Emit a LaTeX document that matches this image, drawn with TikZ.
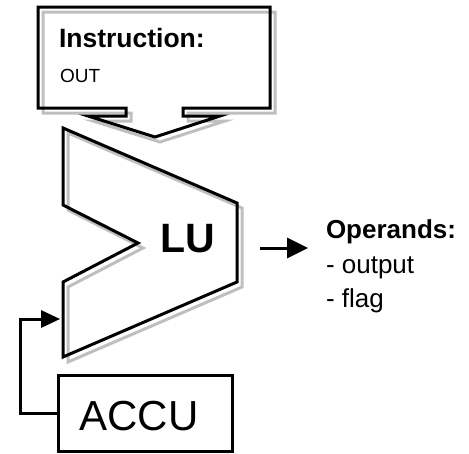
\documentclass[tikz,border=0pt]{standalone}
\usepackage{fontspec}
\setmainfont{Liberation Sans}
\usetikzlibrary{arrows.meta}
\tikzset{
  mainline/.style={draw=black, line width=3pt, line join=miter},
  shadowline/.style={draw=black!25, line width=3pt, line join=miter, shift={(5,5)}},
  bigtip/.style={-{Triangle[length=21pt,width=20pt]}},
  fbtip/.style={-{Triangle[length=19pt,width=17pt]}},
  txt/.style={inner sep=0pt, outer sep=0pt},
}
\newcommand\shadowpath[1]{\path[shadowline] #1; \path[mainline] #1;}
\begin{document}
\begin{tikzpicture}[x=1pt,y=-1pt]
\useasboundingbox (0,0) rectangle (469,453);
% Instruction box with funnel
\shadowpath{(126,116) -- (126,108) -- (38,108) -- (38,7) -- (270,7) -- (270,108) -- (183,108) -- (183,116) -- (220,116) -- (155,137) -- (88,116) -- cycle}
% LU shape
\shadowpath{(63,128) -- (237,203) -- (237,282) -- (63,357) -- (63,282) -- (138,243) -- (63,205) -- cycle}
% ACCU box
\node[txt, minimum width=174pt, minimum height=76pt] (accu) at (145,413) {};
\path[shadowline] (accu.south west) rectangle (accu.north east);
\path[mainline] (accu.south west) rectangle (accu.north east);
% texts
\node[txt, anchor=base west, font=\fontsize{26.5}{30}\selectfont\bfseries] (instr) at (59,47) {Instruction:};
\node[txt, anchor=base west, font=\fontsize{19}{22}\selectfont] (op) at (60,82) {OUT};
\node[txt, anchor=base, font=\fontsize{41}{48}\selectfont\bfseries] (lu) at (187.5,252) {LU};
\node[txt, anchor=base, font=\fontsize{42}{50}\selectfont] (accutext) at (139,430) {ACCU};
\node[txt, anchor=base west, font=\fontsize{26}{30}\selectfont\bfseries] (operands) at (326,238) {Operands:};
\node[txt, anchor=base west, font=\fontsize{26}{30}\selectfont] (out) at (326,273) {- output};
\node[txt, anchor=base west, font=\fontsize{26}{30}\selectfont] (flag) at (326,307) {- flag};
% output arrow
\coordinate (arrs) at (260,248);
\coordinate (arre) at (308,248);
\draw[shadowline, bigtip] (arrs) -- (arre);
\draw[mainline, bigtip] (arrs) -- (arre);
% feedback arrow
\coordinate (fbcorner) at (20,319);
\coordinate (fbend) at (60,319);
\draw[shadowline, fbtip] (accu.west) -| (fbcorner) -- (fbend);
\draw[mainline, fbtip] (accu.west) -| (fbcorner) -- (fbend);
\end{tikzpicture}
\end{document}
